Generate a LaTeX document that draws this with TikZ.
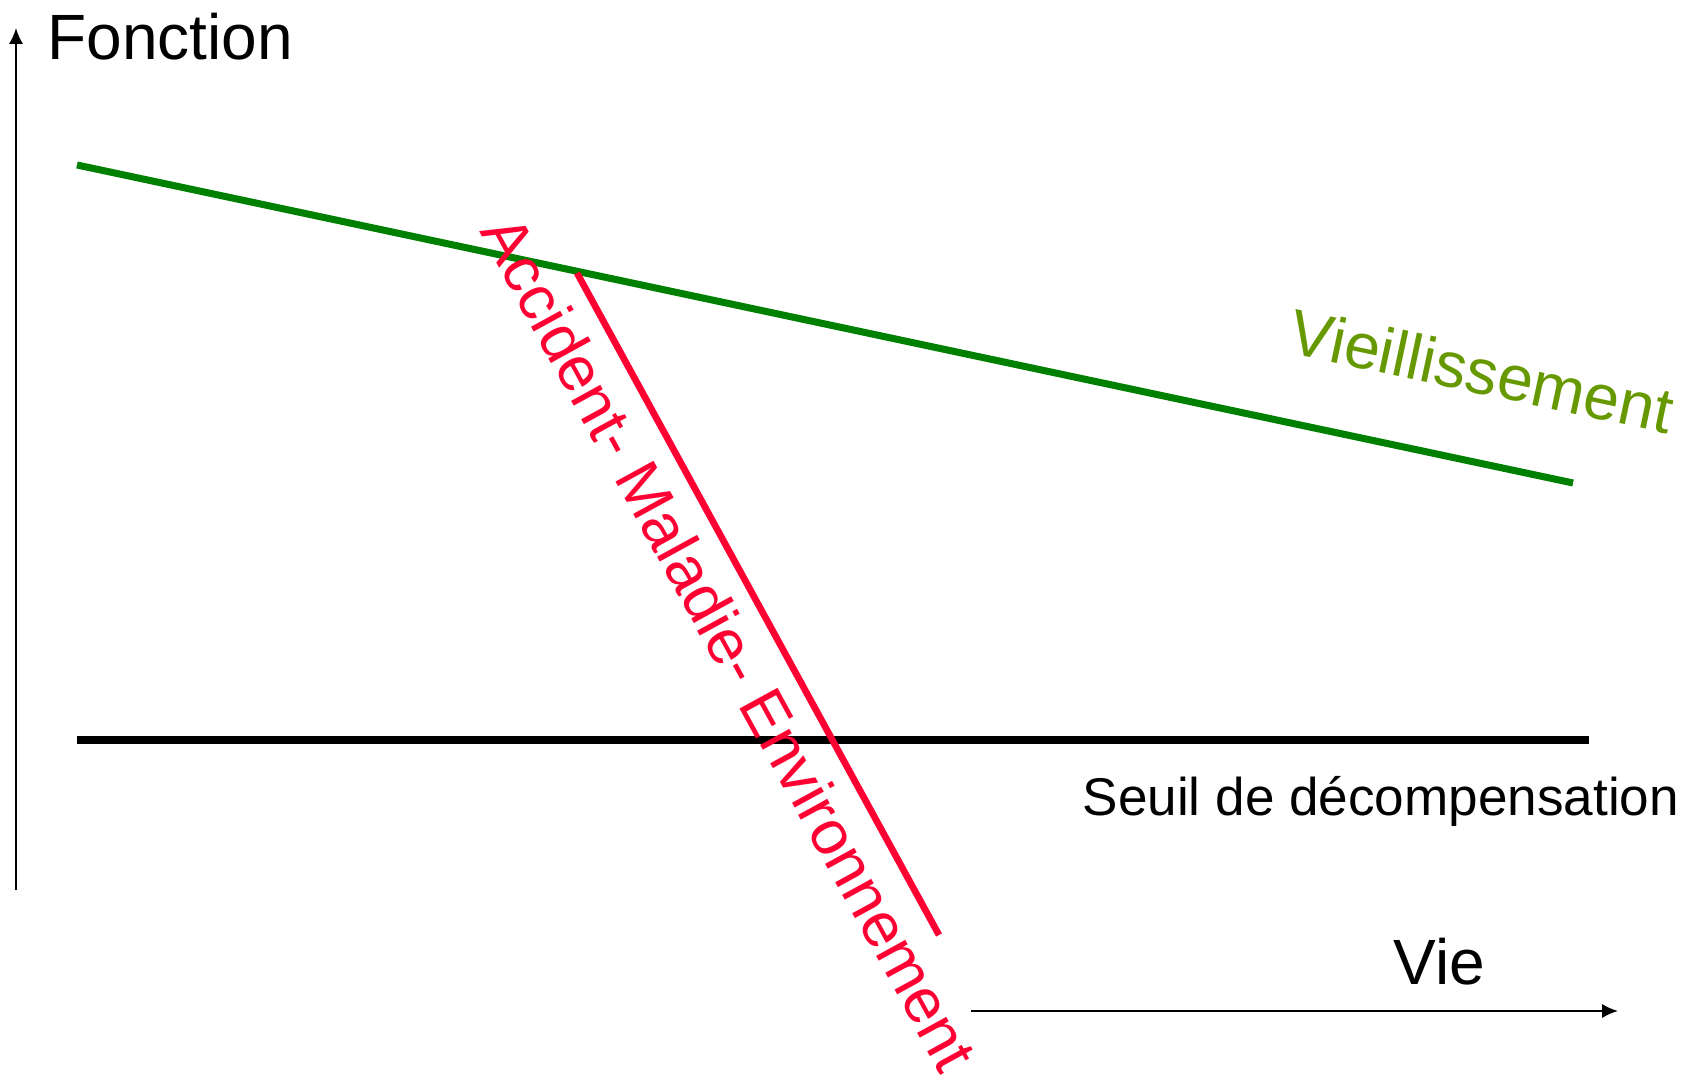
\documentclass[tikz,border=0pt]{standalone}
\usepackage{fontspec}
\setmainfont{Liberation Sans}
\usetikzlibrary{arrows.meta}
\definecolor{ligne}{RGB}{0,128,0}
\definecolor{vieil}{RGB}{102,153,0}
\definecolor{accid}{RGB}{255,0,51}
\begin{document}
\begin{tikzpicture}[x=0.01cm,y=-0.01cm,>={Latex[length=4.5pt,width=4pt]},
  axe/.style={->,line width=0.6pt},
  courbe/.style={line width=2pt},
  titre/.style={font=\fontsize{18.2pt}{20pt}\selectfont,inner sep=0pt}]
  \useasboundingbox (0,0) rectangle (1686,1077);
  % axes
  \coordinate (o) at (16,890);
  \coordinate (h) at (16,28);
  \coordinate (v0) at (971,1011);
  \coordinate (v1) at (1618,1011);
  \draw[axe] (o) -- (h);
  \draw[axe] (v0) -- (v1);
  \node[titre,anchor=base west] (fonction) at (47,60) {Fonction};
  \node[titre,anchor=base west] (vie) at (1393,984) {Vie};
  % vieillissement
  \coordinate (g0) at (77,165);
  \coordinate (g1) at (1573,483);
  \draw[courbe,ligne] (g0) -- (g1);
  \node[titre,text=vieil,rotate=-12] (vieillissement) at (1482,371) {Vieillissement};
  % seuil
  \coordinate (s0) at (77,740);
  \coordinate (s1) at (1589,740);
  \draw[courbe,black] (s0) -- (s1);
  \node[inner sep=0pt,anchor=base west,font=\fontsize{15.1pt}{17pt}\selectfont] (seuil) at (1082,815) {Seuil de décompensation};
  % accident
  \coordinate (r0) at (577,273);
  \coordinate (r1) at (939,935);
  \draw[line width=1.9pt,accid] (r0) -- (r1);
  \node[titre,font=\fontsize{17.9pt}{20pt}\selectfont,text=accid,rotate=-61.3] (accident) at (730,643) {Accident- Maladie- Environnement};
\end{tikzpicture}
\end{document}
